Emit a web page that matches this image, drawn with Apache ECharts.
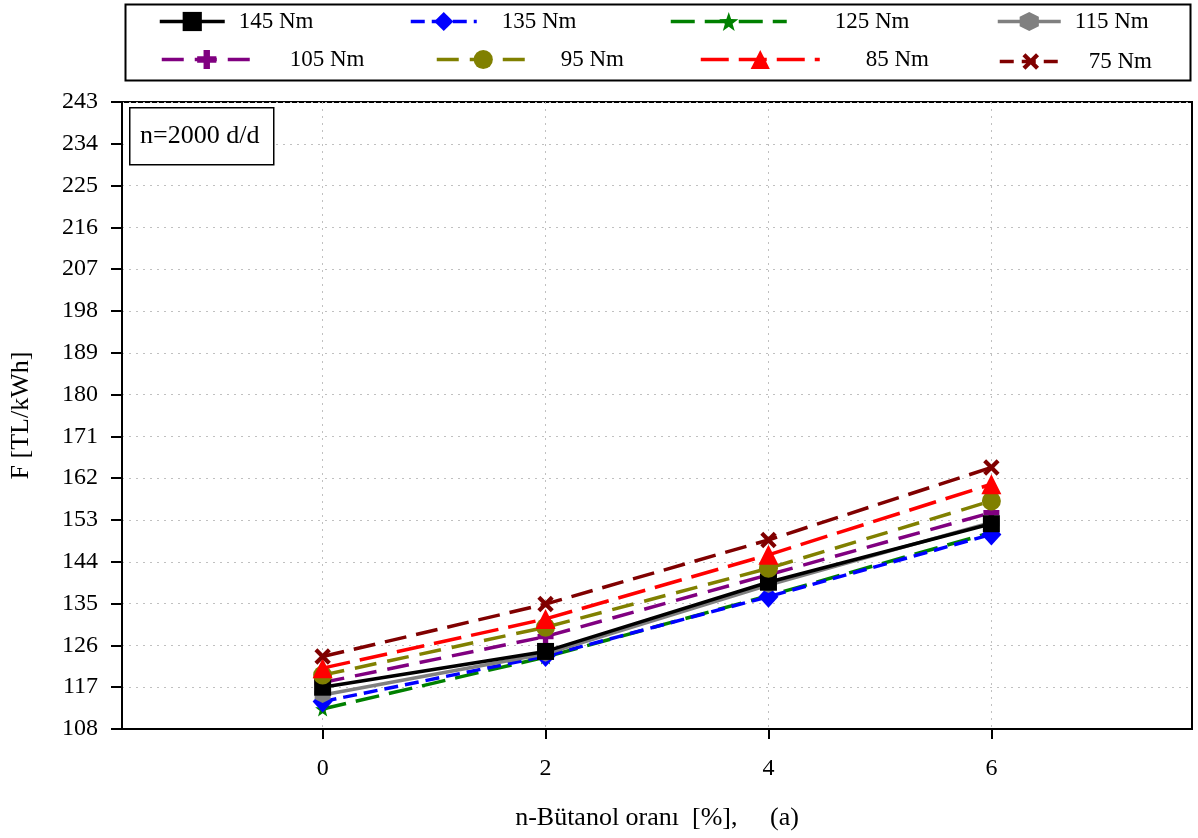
<!DOCTYPE html>
<html>
<head>
<meta charset="utf-8">
<script src="https://cdn.jsdelivr.net/npm/echarts@6/dist/echarts.min.js"></script>
<style>html,body{margin:0;padding:0;background:#fff}#c{width:1198px;height:838px}</style>
</head>
<body>
<div id="c"></div>
<script>
const xValues = [0, 2, 4, 6];
const seriesNames = ['145 Nm', '135 Nm', '125 Nm', '115 Nm', '105 Nm', '95 Nm', '85 Nm', '75 Nm'];
const s145 = [117.0, 124.7, 139.6, 152.2];
const s135 = [113.9, 123.7, 136.5, 149.9];
const s125 = [112.3, 123.5, 136.7, 150.3];
const s115 = [115.3, 124.2, 139.0, 152.5];
const s105 = [118.0, 127.9, 141.2, 154.6];
const s95  = [119.6, 129.9, 142.6, 157.1];
const s85  = [121.1, 131.7, 145.5, 160.7];
const s75  = [123.6, 134.9, 148.7, 164.3];
const yTicks = [108, 117, 126, 135, 144, 153, 162, 171, 180, 189, 198, 207, 216, 225, 234, 243];

const FONT = '"Liberation Serif", "Times New Roman", serif';
const STAR = 'path://M0,-1 L0.235,-0.324 L0.951,-0.309 L0.380,0.124 L0.588,0.809 L0,0.4 L-0.588,0.809 L-0.380,0.124 L-0.951,-0.309 L-0.235,-0.324 Z';
const HEX = 'path://M0,-1 L0.866,-0.5 L0.866,0.5 L0,1 L-0.866,0.5 L-0.866,-0.5 Z';
const PLUS = 'path://M-1,-3 L1,-3 L1,-1 L3,-1 L3,1 L1,1 L1,3 L-1,3 L-1,1 L-3,1 L-3,-1 L-1,-1 Z';
const XMARK = 'path://M-0.75,-3.4 L0.75,-3.4 L0.75,-0.75 L3.4,-0.75 L3.4,0.75 L0.75,0.75 L0.75,3.4 L-0.75,3.4 L-0.75,0.75 L-3.4,0.75 L-3.4,-0.75 L-0.75,-0.75 Z';

const styles = {
  '145 Nm': {data: s145, color: '#000000', type: 'solid', symbol: 'rect', size: 17, rot: 0, z: 6},
  '135 Nm': {data: s135, color: '#0000ff', type: [14, 7], symbol: 'diamond', size: [20, 22], rot: 0, z: 3},
  '125 Nm': {data: s125, color: '#008000', type: [24, 10], symbol: STAR, size: 15, rot: 0, z: 2},
  '115 Nm': {data: s115, color: '#808080', type: 'solid', symbol: HEX, size: 16, rot: 0, z: 4},
  '105 Nm': {data: s105, color: '#800080', type: [22, 11], symbol: PLUS, size: 16, rot: 0, z: 5},
  '95 Nm':  {data: s95,  color: '#808000', type: [22, 11], symbol: 'circle', size: 19, rot: 0, z: 7},
  '85 Nm':  {data: s85,  color: '#ff0000', type: [28, 10], symbol: 'triangle', size: 20, rot: 0, z: 8},
  '75 Nm':  {data: s75,  color: '#800000', type: [22, 10], symbol: XMARK, size: 19, rot: 45, z: 9}
};

const series = seriesNames.map(n => {
  const s = styles[n];
  return {
    name: n, type: 'line', z: s.z,
    data: s.data.map((v, i) => [xValues[i], v]),
    symbol: s.symbol, symbolSize: s.size, symbolRotate: s.rot,
    showAllSymbol: true,
    lineStyle: {color: s.color, width: 3.5, type: s.type},
    itemStyle: {color: s.color},
    emphasis: {disabled: true},
    animation: false
  };
});

// legend layout: [left, top, itemWidth, textPad, dash]
const legendPos = [
  [158, 10, 65, 9, null], [409, 10, 66, 20, null], [669, 10, 116, 43, null], [996, 10, 63, 9, null],
  [160, 48, 90, 33, null], [435, 48, 93, 26, null], [699, 48, 119, 41, null], [998, 48, 62, 22, [14, 8]]
];
const legends = seriesNames.map((n, i) => {
  const p = legendPos[i];
  const ls = {width: 3.5};
  if (p[4]) ls.type = p[4];
  return {
    data: [n], left: p[0], top: p[1], itemWidth: p[2], itemHeight: 24,
    padding: 0, selectedMode: false,
    lineStyle: ls,
    textStyle: {fontFamily: FONT, fontSize: 23, color: '#000', padding: [0, 0, 0, p[3]]}
  };
});

const chart = echarts.init(document.getElementById('c'), null, {renderer: 'canvas'});
chart.setOption({
  animation: false,
  backgroundColor: '#fff',
  legend: legends,
  grid: {left: 122, right: 6, top: 102, bottom: 109, show: true, borderColor: '#000', borderWidth: 2, containLabel: false, outerBoundsMode: 'none'},
  xAxis: {
    type: 'value', min: -1.8, max: 7.8,
    name: 'n-Bütanol oranı  [%],     (a)', nameLocation: 'middle', nameGap: 76,
    nameTextStyle: {fontFamily: FONT, fontSize: 26, color: '#000'},
    axisLine: {show: true, onZero: false, lineStyle: {color: '#000', width: 2}},
    axisTick: {show: true, inside: false, customValues: xValues, length: 10, lineStyle: {color: '#000', width: 2}},
    axisLabel: {customValues: xValues, fontFamily: FONT, fontSize: 24, color: '#000', margin: 28},
    splitLine: {show: true, lineStyle: {color: '#c0c0c0', type: [2, 5], width: 1}}
  },
  yAxis: {
    type: 'value', min: yTicks[0], max: yTicks[yTicks.length - 1], interval: 9,
    name: 'F [TL/kWh]', nameLocation: 'middle', nameGap: 88, nameRotate: 90,
    nameTextStyle: {fontFamily: FONT, fontSize: 26, color: '#000'},
    axisLine: {show: true, onZero: false, lineStyle: {color: '#000', width: 2}},
    axisTick: {show: true, inside: false, length: 11, lineStyle: {color: '#000', width: 2}},
    axisLabel: {fontFamily: FONT, fontSize: 24, color: '#000', margin: 24},
    splitLine: {show: true, lineStyle: {color: '#c0c0c0', type: [2, 5], width: 1}}
  },
  graphic: [
    {type: 'rect', left: 123, top: 2, shape: {width: 1065, height: 76}, style: {fill: 'none', stroke: '#000', lineWidth: 2}, z: 0},
    {type: 'rect', left: 129, top: 107, shape: {width: 144, height: 57}, style: {fill: '#fff', stroke: '#000', lineWidth: 1.5}, z: 100},
    {type: 'text', left: 140, top: 123, style: {text: 'n=2000 d/d', font: '26px ' + FONT, fill: '#000'}, z: 101}
  ],
  series: series
});
</script>
</body>
</html>
